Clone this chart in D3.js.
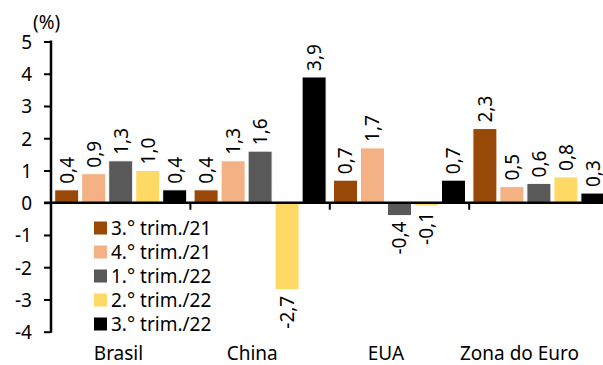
<!DOCTYPE html>
<html>
<head>
<meta charset="utf-8">
<script src="https://cdn.jsdelivr.net/npm/d3@7"></script>
<style>
  html, body { margin: 0; padding: 0; background: #fff; }
  svg { display: block; }
  text { font-family: "Noto Sans", "Open Sans", sans-serif; fill: #000; }
</style>
</head>
<body>
<svg id="chart" width="603" height="365"></svg>
<script>
// Quarterly GDP growth (% q/q) by economy
const categories = ["Brasil", "China", "EUA", "Zona do Euro"];
const seriesNames = ["3.° trim./21", "4.° trim./21", "1.° trim./22", "2.° trim./22", "3.° trim./22"];
const seriesColors = ["#984807", "#F4B183", "#595959", "#FFD966", "#000000"];

const q3_21 = [0.4, 0.4, 0.7, 2.3];
const q4_21 = [0.9, 1.3, 1.7, 0.5];
const q1_22 = [1.3, 1.6, -0.4, 0.6];
const q2_22 = [1.0, -2.7, -0.1, 0.8];
const q3_22 = [0.4, 3.9, 0.7, 0.3];
const seriesValues = [q3_21, q4_21, q1_22, q2_22, q3_22];

const yTicks = [-4, -3, -2, -1, 0, 1, 2, 3, 4, 5];
const unitLabel = "(%)";

const fmt = v => d3.format(".1f")(v).replace(".", ",").replace("−", "-");

const svg = d3.select("#chart");
const plotLeft = 51, groupWidth = 139.4;

const y = d3.scaleLinear().domain([-4, 5]).range([331.7, 41.5]);
const x0 = d3.scaleBand().domain(categories)
  .range([plotLeft, plotLeft + groupWidth * categories.length]).padding(0);
const x1 = d3.scaleBand().domain(seriesNames)
  .range([0, x0.bandwidth()]).paddingInner(0.111).paddingOuter(0.137);
const xLabel = d3.scalePoint().domain(categories).range([118.5, 519.5]);

const fs = 19;

// Bars
const bars = [];
seriesNames.forEach((s, si) => {
  categories.forEach((c, ci) => {
    bars.push({ s, si, c, v: seriesValues[si][ci] });
  });
});

const g = svg.append("g");
g.selectAll("rect.bar").data(bars).join("rect")
  .attr("class", "bar")
  .attr("x", d => x0(d.c) + x1(d.s))
  .attr("width", x1.bandwidth())
  .attr("y", d => y(Math.max(0, d.v)))
  .attr("height", d => Math.abs(y(d.v) - y(0)))
  .attr("fill", d => seriesColors[d.si])
  .attr("stroke", "#fff")
  .attr("stroke-width", 1);

// Value labels, rotated
const gap = 6;
g.selectAll("text.val").data(bars).join("text")
  .attr("class", "val")
  .attr("font-size", fs)
  .attr("transform", d => {
    const cx = x0(d.c) + x1(d.s) + x1.bandwidth() / 2;
    const yy = d.v >= 0 ? y(d.v) - gap : y(d.v) + gap;
    return `translate(${cx},${yy}) rotate(-90)`;
  })
  .attr("text-anchor", d => d.v >= 0 ? "start" : "end")
  .attr("dy", "0.36em")
  .text(d => fmt(d.v));

// Y axis
const yAxis = d3.axisLeft(y).tickValues(yTicks).tickSize(7).tickPadding(12)
  .tickFormat(d => String(d).replace("−", "-"));
const ya = svg.append("g").attr("transform", `translate(${plotLeft},0)`).call(yAxis);
ya.select(".domain").attr("stroke", "#000").attr("stroke-width", 2.5)
  .attr("d", `M0,${y(5) - 1}V${y(-4) + 1}`);
ya.selectAll(".tick line").attr("stroke", "#000").attr("stroke-width", 2);
ya.selectAll(".tick text").attr("font-size", fs).attr("font-family", "Noto Sans")
  .attr("fill", "#000").attr("dy", "0.36em");

// Zero line with category separators
const zx = svg.append("g").attr("transform", `translate(0,${y(0)})`);
zx.append("line").attr("x1", plotLeft - 7).attr("x2", 610)
  .attr("stroke", "#000").attr("stroke-width", 2.5);
zx.selectAll("line.sep").data(categories.slice(1)).join("line")
  .attr("class", "sep")
  .attr("x1", d => x0(d)).attr("x2", d => x0(d))
  .attr("y1", 0).attr("y2", 7)
  .attr("stroke", "#000").attr("stroke-width", 2);

// Category labels
svg.selectAll("text.cat").data(categories).join("text")
  .attr("class", "cat")
  .attr("x", d => xLabel(d)).attr("y", 359.5)
  .attr("text-anchor", "middle")
  .attr("font-size", fs)
  .text(d => d);

// Unit label
svg.append("text").attr("x", 33).attr("y", 29).attr("font-size", fs).text(unitLabel);

// Legend
const lg = svg.append("g").attr("transform", "translate(94,228)");
const items = lg.selectAll("g").data(seriesNames).join("g")
  .attr("transform", (d, i) => `translate(0,${i * 24})`);
items.append("rect").attr("x", 0).attr("y", -6.5).attr("width", 13).attr("height", 13)
  .attr("fill", (d, i) => seriesColors[i]);
items.append("text").attr("x", 17).attr("y", 0).attr("dy", "0.36em")
  .attr("font-size", fs).text(d => d);
</script>
</body>
</html>
